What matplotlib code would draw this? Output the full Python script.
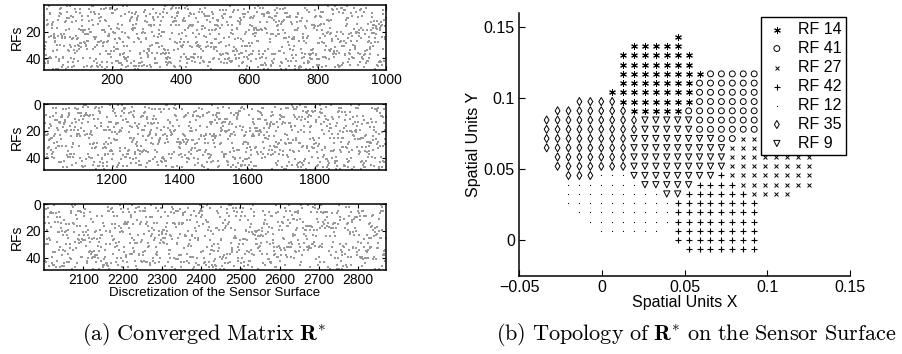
import numpy as np
import matplotlib
matplotlib.use("Agg")
from matplotlib import pyplot as plt

plt.rcParams['font.family'] = ['Liberation Sans', 'DejaVu Sans']
plt.rcParams['mathtext.fontset'] = 'cm'

# ---- (a) converged matrix R*  (48 RFs x 2870 sensor points, shown in 3 strips)
n_rfs = 48
n_points = 2870
strip_xlims = [(0, 1000), (1000, 2010), (2000, 2871)]
strip_xticks = [[200, 400, 600, 800, 1000],
                [1200, 1400, 1600, 1800],
                [2100, 2200, 2300, 2400, 2500, 2600, 2700, 2800]]
strip_yticks = [[20, 40], [0, 20, 40], [0, 20, 40]]

# the single nonzeros are far below pixel size and can't be read off the
# picture, so this is only a stand-in speckle texture with similar density
rng = np.random.default_rng(7)
nz_cols = np.arange(1, n_points + 1)
nz_rows = rng.integers(1, n_rfs + 1, nz_cols.size)

# ---- (b) topology of R* on the sensor grid
grid_x0, grid_dx = -0.0333, 0.0066
grid_y0, grid_dy = -0.0063, 0.0065

rf_labels = ['RF 14', 'RF 41', 'RF 27', 'RF 42', 'RF 12', 'RF 35', 'RF 9']
# (grid row, first col, last col) for every RF
rf14_rows = [(23, 12, 12), (22, 8, 12), (21, 7, 13), (20, 7, 13), (19, 7, 14),
             (18, 7, 13), (17, 6, 13), (16, 7, 13), (15, 8, 12)]
rf41_rows = [(19, 15, 19), (18, 14, 19), (17, 14, 19), (16, 14, 19), (15, 13, 19),
             (14, 14, 19), (13, 14, 19), (12, 16, 17)]
rf27_rows = [(12, 18, 19), (11, 17, 19), (10, 17, 24), (9, 17, 24), (8, 17, 24),
             (7, 18, 24), (6, 19, 22)]
rf42_rows = [(8, 16, 16), (7, 14, 17), (6, 13, 18), (5, 12, 19), (4, 12, 19),
             (3, 12, 19), (2, 12, 19), (1, 12, 19), (0, 13, 19)]
rf12_rows = [(8, 5, 7), (7, 2, 8), (6, 2, 10), (5, 2, 11), (4, 3, 11),
             (3, 4, 11), (2, 5, 10)]
rf35_rows = [(16, 3, 6), (15, 1, 7), (14, 0, 8), (13, 0, 8), (12, 0, 7),
             (11, 0, 7), (10, 1, 7), (9, 1, 7), (8, 2, 4)]
rf9_rows = [(14, 9, 13), (13, 9, 13), (12, 8, 15), (11, 8, 16), (10, 8, 16),
            (9, 8, 16), (8, 8, 15), (7, 9, 13), (6, 11, 12)]
rf_spans = [rf14_rows, rf41_rows, rf27_rows, rf42_rows, rf12_rows, rf35_rows, rf9_rows]


def span_points(spans):
    xs, ys = [], []
    for row, c0, c1 in spans:
        for c in range(c0, c1 + 1):
            xs.append(grid_x0 + c * grid_dx)
            ys.append(grid_y0 + row * grid_dy)
    return xs, ys


fig = plt.figure(figsize=(9.02, 3.54), dpi=100)
W, H = 902.0, 354.0

def px_axes(x0, y0, x1, y1):
    return fig.add_axes([x0 / W, 1 - y1 / H, (x1 - x0) / W, (y1 - y0) / H])

strip_boxes = [(44, 5, 386, 70), (44, 104, 386, 170), (44, 204, 386, 270)]
for i, box in enumerate(strip_boxes):
    ax = px_axes(*box)
    lo, hi = strip_xlims[i]
    m = (nz_cols >= lo) & (nz_cols <= hi)
    ax.scatter(nz_cols[m], nz_rows[m], s=0.8, marker='s', color='0.6',
               linewidths=0)
    ax.set_xlim(lo, hi)
    ax.set_ylim(n_rfs + 1, 0)
    ax.set_xticks(strip_xticks[i])
    ax.set_yticks(strip_yticks[i])
    ax.tick_params(direction='in', length=3, width=0.8, labelsize=10,
                   top=True, right=True, pad=2)
    for s in ax.spines.values():
        s.set_linewidth(1.1)
    ax.set_ylabel('RFs', fontsize=10, labelpad=1)
    if i == 2:
        ax.set_xlabel('Discretization of the Sensor Surface', fontsize=9.5, labelpad=0)

# right panel
ax = px_axes(519, 13, 850, 276)
styles = [dict(marker=(6, 2, 0), s=18, color='black', linewidths=0.75),
          dict(marker='o', s=18, facecolors='none', edgecolors='black', linewidths=0.7),
          dict(marker='x', s=8, color='black', linewidths=0.7),
          dict(marker='+', s=22, color='black', linewidths=0.8),
          dict(marker='.', s=3, color='black', linewidths=0),
          dict(marker='d', s=17, facecolors='none', edgecolors='black', linewidths=0.7),
          dict(marker='v', s=20, facecolors='none', edgecolors='black', linewidths=0.7)]
for label, spans, st in zip(rf_labels, rf_spans, styles):
    xs, ys = span_points(spans)
    ax.scatter(xs, ys, label=label, **st)

ax.set_xlim(-0.05, 0.15)
ax.set_ylim(-0.025, 0.16)
ax.set_xticks([-0.05, 0, 0.05, 0.1, 0.15])
ax.set_xticklabels(['\u22120.05', '0', '0.05', '0.1', '0.15'])
ax.set_yticks([0, 0.05, 0.1, 0.15])
ax.set_yticklabels(['0', '0.05', '0.1', '0.15'])
ax.spines['top'].set_visible(False)
ax.spines['right'].set_visible(False)
for s in ['left', 'bottom']:
    ax.spines[s].set_linewidth(1.1)
ax.tick_params(direction='in', length=4, width=0.8, labelsize=11.5, pad=3)
ax.set_xlabel('Spatial Units X', fontsize=11.5, labelpad=0)
ax.set_ylabel('Spatial Units Y', fontsize=11.5, labelpad=2)

leg = ax.legend(loc='upper right', bbox_to_anchor=(0.988, 0.985), borderaxespad=0,
                fontsize=11.5, frameon=True, fancybox=False, edgecolor='black',
                framealpha=1, handletextpad=0.6, labelspacing=0.25,
                borderpad=0.3, handlelength=1.4, scatterpoints=1)
leg.get_frame().set_linewidth(1.0)

fig.text(204 / W, 1 - 335 / H, r'$\mathrm{(a)\ Converged\ Matrix\ }\mathbf{R}^{*}$',
         ha='center', va='center', fontsize=16)
fig.text(696 / W, 1 - 335 / H,
         r'$\mathrm{(b)\ Topology\ of\ }\mathbf{R}^{*}\mathrm{\ on\ the\ Sensor\ Surface}$',
         ha='center', va='center', fontsize=16)

fig.savefig('out.png', dpi=100)
